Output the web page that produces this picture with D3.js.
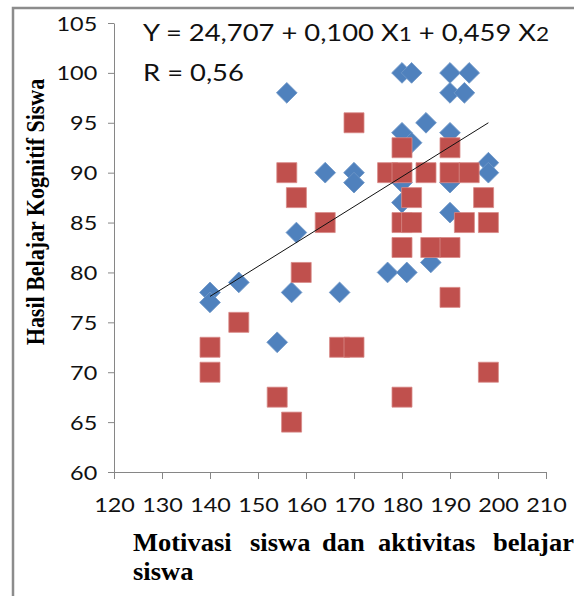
<!DOCTYPE html>
<html>
<head>
<meta charset="utf-8">
<script src="https://cdn.jsdelivr.net/npm/d3@7"></script>
<style>
  body { margin: 0; background: #fff; }
</style>
</head>
<body>
<div class="canvas"></div>
<script>
// data
var xTicks = [120, 130, 140, 150, 160, 170, 180, 190, 200, 210];
var yTicks = [60, 65, 70, 75, 80, 85, 90, 95, 100, 105];

// blue diamonds
var blueX = [140, 140, 146, 154, 156, 157, 158, 164, 167, 170, 170, 177, 180, 182, 190,
             194, 190, 193, 185, 180, 182, 190, 198, 198, 180, 180, 190, 190, 181, 186];
var blueY = [78, 77, 79, 73, 98, 78, 84, 90, 78, 90, 89, 80, 100, 100, 100,
             100, 98, 98, 95, 94, 93, 94, 91, 90, 89, 87, 89, 86, 80, 81];

// red squares
var redX = [140, 140, 146, 154, 157, 159, 167, 170, 164, 170, 156, 158, 180, 190, 177, 180,
            185, 190, 194, 182, 197, 180, 182, 193, 198, 180, 186, 190, 190, 198, 180];
var redY = [72.5, 70, 75, 67.5, 65, 80, 72.5, 72.5, 85, 95, 90, 87.5, 92.5, 92.5, 90, 90,
            90, 90, 90, 87.5, 87.5, 85, 85, 85, 85, 82.5, 82.5, 82.5, 77.5, 70, 67.5];

// regression line ends
var trendX = [140, 198];
var trendY = [77.6, 95];

var xTitle = ["Motivasi", "siswa", "dan", "aktivitas", "belajar"];
var xTitle2 = "siswa";
var yTitle = "Hasil Belajar Kognitif Siswa";

var stretch = 1.2;   // text in the picture is a bit wide

var svg = d3.select(".canvas").append("svg").attr("width", 574).attr("height", 596);

var x = d3.scaleLinear().domain([120, 210]).range([114, 546]);
var y = d3.scaleLinear().domain([60, 105]).range([472, 23]);

// outer frame
svg.append("path")
    .attr("d", "M13,596 L13,8 L574,8")
    .attr("fill", "none")
    .attr("stroke", "#8c8c8c")
    .attr("stroke-width", 2.5);

// axes
var yAxis = svg.append("g")
    .attr("transform", "translate(114,0)")
    .call(d3.axisLeft(y).tickValues(yTicks).tickSize(6).tickSizeOuter(0).tickPadding(8));

var xAxis = svg.append("g")
    .attr("transform", "translate(0,472)")
    .call(d3.axisBottom(x).tickValues(xTicks).tickSize(7).tickSizeOuter(0).tickPadding(19));

[yAxis, xAxis].forEach(function (a) {
    a.select(".domain").attr("stroke", "#868686");
    a.selectAll(".tick line").attr("stroke", "#868686");
    a.selectAll(".tick text")
        .attr("font-family", "Lato, sans-serif")
        .attr("font-size", "19.5px")
        .attr("fill", "#111");
});
yAxis.selectAll(".tick text").attr("dy", "0.36em").attr("transform", "scale(" + stretch + ",1)");
xAxis.selectAll(".tick text").attr("dy", "0.72em").attr("transform", "scale(" + stretch + ",1)");

// points
svg.append("g").selectAll("path")
    .data(blueX)
    .enter().append("path")
    .attr("d", d3.symbol().type(d3.symbolSquare).size(215))
    .attr("transform", function (d, i) { return "translate(" + x(d) + "," + y(blueY[i]) + ") rotate(45)"; })
    .attr("fill", "#4F81BD")
    .attr("stroke", "#6f97c8")
    .attr("stroke-width", 0.8);

svg.append("g").selectAll("path")
    .data(redX)
    .enter().append("path")
    .attr("d", d3.symbol().type(d3.symbolSquare).size(400))
    .attr("transform", function (d, i) { return "translate(" + x(d) + "," + y(redY[i]) + ")"; })
    .attr("fill", "#C0504D")
    .attr("stroke", "#d88a88")
    .attr("stroke-width", 0.8);

// trend line
svg.append("line")
    .attr("x1", x(trendX[0])).attr("y1", y(trendY[0]))
    .attr("x2", x(trendX[1])).attr("y2", y(trendY[1]))
    .attr("stroke", "#111")
    .attr("stroke-width", 1);

// equation
var eq = svg.append("text")
    .attr("transform", "translate(143,41) scale(1.19,1)")
    .attr("font-family", "Lato, sans-serif")
    .attr("font-size", "23px")
    .attr("fill", "#111");
eq.append("tspan").text("Y = 24,707 + 0,100 X");
eq.append("tspan").attr("font-size", "19px").text("1");
eq.append("tspan").text(" + 0,459 X");
eq.append("tspan").attr("font-size", "19px").text("2");

svg.append("text")
    .attr("transform", "translate(143,81) scale(1.19,1)")
    .attr("font-family", "Lato, sans-serif")
    .attr("font-size", "23px")
    .attr("fill", "#111")
    .text("R = 0,56");

// axis titles
var wordX = [133, 250, 322, 378, 493];
xTitle.forEach(function (w, i) {
    svg.append("text")
        .attr("transform", "translate(" + wordX[i] + ",551) scale(1.04,1)")
        .attr("font-family", "'Liberation Serif', serif")
        .attr("font-weight", "bold")
        .attr("font-size", "25.5px")
        .text(w);
});
svg.append("text")
    .attr("transform", "translate(133,580) scale(1.04,1)")
    .attr("font-family", "'Liberation Serif', serif")
    .attr("font-weight", "bold")
    .attr("font-size", "25.5px")
    .text(xTitle2);

svg.append("text")
    .attr("transform", "translate(44,212) scale(1.15,1) rotate(-90)")
    .attr("text-anchor", "middle")
    .attr("font-family", "'Liberation Serif', serif")
    .attr("font-weight", "bold")
    .attr("font-size", "22px")
    .text(yTitle);
</script>
</body>
</html>
